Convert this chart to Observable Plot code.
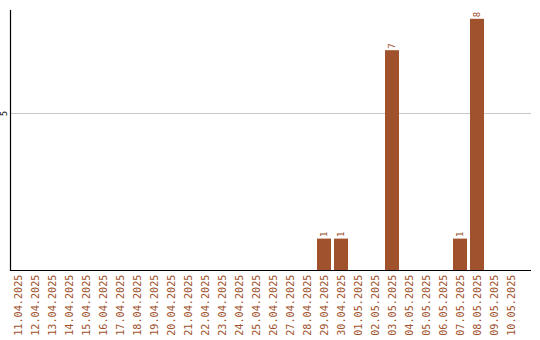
<!DOCTYPE html>
<html>
<head>
<meta charset="utf-8">
<script src="https://cdn.jsdelivr.net/npm/d3@7"></script>
<script src="https://cdn.jsdelivr.net/npm/@observablehq/plot@0.6"></script>
<style>
  html, body { margin: 0; padding: 0; background: #fff; }
  #chart svg { display: block; }
</style>
</head>
<body>
<div id="chart"></div>
<script>
// Daily counts, 11.04.2025 – 10.05.2025
const dates = [
  "11.04.2025", "12.04.2025", "13.04.2025", "14.04.2025", "15.04.2025",
  "16.04.2025", "17.04.2025", "18.04.2025", "19.04.2025", "20.04.2025",
  "21.04.2025", "22.04.2025", "23.04.2025", "24.04.2025", "25.04.2025",
  "26.04.2025", "27.04.2025", "28.04.2025", "29.04.2025", "30.04.2025",
  "01.05.2025", "02.05.2025", "03.05.2025", "04.05.2025", "05.05.2025",
  "06.05.2025", "07.05.2025", "08.05.2025", "09.05.2025", "10.05.2025"
];
const counts = [
  0, 0, 0, 0, 0,
  0, 0, 0, 0, 0,
  0, 0, 0, 0, 0,
  0, 0, 0, 1, 1,
  0, 0, 7, 0, 0,
  0, 1, 8, 0, 0
];
const yTicks = [5];

const data = dates.map((d, i) => ({date: d, count: counts[i]}));
const brown = "#a0522d";
const mono = "'DejaVu Sans Mono', monospace";

const chart = Plot.plot({
  width: 540,
  height: 340,
  marginLeft: 10,
  marginRight: 9,
  marginTop: 10,
  marginBottom: 70,
  style: {fontFamily: mono, fontSize: "10px", background: "#fff"},
  x: {domain: dates, range: [9, 519], paddingInner: 0.18, paddingOuter: 0.09, label: null},
  y: {domain: [0, 8.28], label: null},
  marks: [
    Plot.ruleY(yTicks, {stroke: "#c8c8c8", strokeWidth: 1}),
    Plot.barY(data, {x: "date", y: "count", fill: brown}),
    Plot.text(data.filter(d => d.count > 0), {
      x: "date", y: "count", text: d => String(d.count),
      rotate: -90, textAnchor: "start", dy: -2,
      fill: brown, fontSize: 9
    }),
    Plot.axisX({
      tickSize: 0, tickPadding: 4, tickRotate: -90,
      fill: brown, color: brown, label: null, fontSize: 10.2
    }),
    Plot.axisY(yTicks, {
      tickSize: 0, tickPadding: 4, tickRotate: -90,
      fill: "#000", label: null, fontSize: 8.5
    }),
    Plot.ruleY([0], {stroke: "#000", strokeWidth: 1.2}),
    Plot.frame({anchor: "left", stroke: "#000", strokeWidth: 1.2})
  ]
});
document.getElementById("chart").appendChild(chart);
</script>
</body>
</html>
